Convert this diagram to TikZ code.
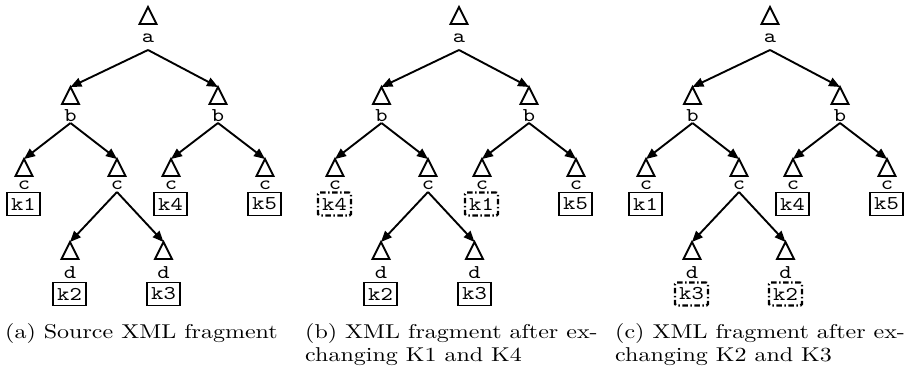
\documentclass[tikz,border=0pt]{standalone}
\usepackage{fontspec}
\setmainfont{lmroman10-regular.otf}
\newfontfamily\xmono{lmmono10-regular.otf}
\usetikzlibrary{arrows.meta}
\newcommand\hstretch[1]{\scalebox{1.2}[1]{#1}}
\tikzset{
  tri/.style={draw, line width=1.9pt, line join=miter},
  lbl/.style={font=\xmono\fontsize{19.5}{19.5}\selectfont, inner sep=0pt, anchor=base},
  arr/.style={line width=1.9pt, -{Triangle[length=11pt,width=9pt]}},
  kbox/.style={draw, line width=1.9pt, minimum width=33pt, minimum height=23pt, inner sep=0pt,
    font=\xmono\fontsize{19.5}{19.5}\selectfont},
  swapbox/.style={kbox, line width=2.4pt, rounded corners=1.5pt,
    dash pattern=on 5.5pt off 2.5pt on 1.5pt off 2.5pt},
  capt/.style={font=\fontsize{20}{23.5}\selectfont, inner sep=0pt, anchor=base west}
}
\newcommand\tn[5]{%
  \coordinate (#1) at (#2,#3);
  \draw[tri] (#1) -- ++(-8.5,17) -- ++(17,0) -- cycle;
  \node[lbl] (#1-l) at (#2,#5) {\hstretch{#4}};
}
\newcommand\xtree{%
  \tn{a}{148}{7}{a}{42}
  \tn{b1}{70.5}{87}{b}{121}
  \tn{b2}{218}{87}{b}{121}
  \tn{c1}{24}{159}{c}{189}
  \tn{c2}{117}{159}{c}{189}
  \tn{c3}{171}{159}{c}{189}
  \tn{c4}{265}{159}{c}{189}
  \tn{d1}{70}{242}{d}{278}
  \tn{d2}{163.5}{242}{d}{278}
  \draw[arr] ([yshift=-8pt]a-l.base) -- (b1);
  \draw[arr] ([yshift=-8pt]a-l.base) -- (b2);
  \draw[arr] ([yshift=-2pt]b1-l.base) -- (c1);
  \draw[arr] ([yshift=-2pt]b1-l.base) -- (c2);
  \draw[arr] ([yshift=-2pt]b2-l.base) -- (c3);
  \draw[arr] ([yshift=-2pt]b2-l.base) -- (c4);
  \draw[arr] ([yshift=-3pt]c2-l.base) -- (d1);
  \draw[arr] ([yshift=-3pt]c2-l.base) -- (d2);
}
\begin{document}
\begin{tikzpicture}[x=1pt,y=-1pt]
\useasboundingbox (0,0) rectangle (914,372);
% (a)
\begin{scope}[name prefix=A-]
  \xtree
  \node[kbox] (k1) at (23.5,204) {\hstretch{k1}};
  \node[kbox] (k4) at (170.5,204) {\hstretch{k4}};
  \node[kbox] (k5) at (264.5,204) {\hstretch{k5}};
  \node[kbox] (k2) at (69.5,294) {\hstretch{k2}};
  \node[kbox] (k3) at (163.5,294) {\hstretch{k3}};
\end{scope}
% (b)
\begin{scope}[xshift=311pt, name prefix=B-]
  \xtree
  \node[swapbox] (k4) at (23.5,204) {\hstretch{k4}};
  \node[swapbox] (k1) at (170.5,204) {\hstretch{k1}};
  \node[kbox] (k5) at (264.5,204) {\hstretch{k5}};
  \node[kbox] (k2) at (69.5,294) {\hstretch{k2}};
  \node[kbox] (k3) at (163.5,294) {\hstretch{k3}};
\end{scope}
% (c)
\begin{scope}[xshift=622pt, name prefix=C-]
  \xtree
  \node[kbox] (k1) at (23.5,204) {\hstretch{k1}};
  \node[kbox] (k4) at (170.5,204) {\hstretch{k4}};
  \node[kbox] (k5) at (264.5,204) {\hstretch{k5}};
  \node[swapbox] (k3) at (69.5,294) {\hstretch{k3}};
  \node[swapbox] (k2) at (163.5,294) {\hstretch{k2}};
\end{scope}
% captions
\node[capt] (capA) at (5,338) {\hstretch{(a) Source XML fragment}};
\node[capt] (capB1) at (305,338) {\hstretch{(b) XML fragment after ex-}};
\node[capt] (capB2) at (305,361.5) {\hstretch{changing K1 and K4}};
\node[capt] (capC1) at (615,338) {\hstretch{(c) XML fragment after ex-}};
\node[capt] (capC2) at (615,361.5) {\hstretch{changing K2 and K3}};
\end{tikzpicture}
\end{document}
